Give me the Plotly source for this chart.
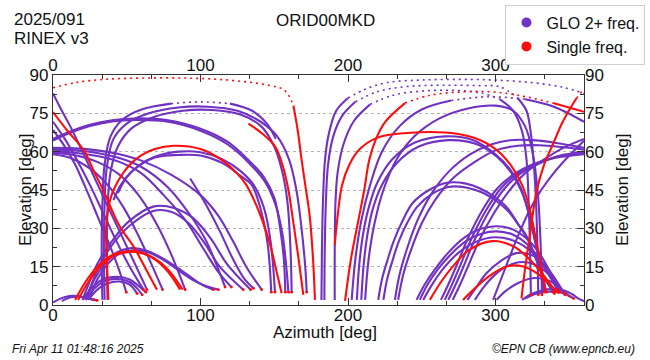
import plotly.graph_objects as go

# ---------------- text ----------------
station = "ORID00MKD"
date_label = "2025/091"
rinex_label = "RINEX v3"
stamp_left = "Fri Apr 11 01:48:16 2025"
stamp_right = "©EPN CB (www.epncb.eu)"
legend_names = ["GLO 2+ freq.", "Single freq."]
x_ticks = [0, 100, 200, 300]
y_ticks = [0, 15, 30, 45, 60, 75, 90]

# ---------------- single-frequency tracks (azimuth, elevation) ----------------
r01 = [(0, 85), (15, 87), (35, 88.3), (60, 88.8), (90, 88.8), (119, 88), (146, 86), (157, 84),
       (163, 78), (166, 68), (168.5, 57), (171, 47), (174, 35), (176.3, 18), (177.6, 2)]
r02 = [(0, 75.5), (10, 68), (20.8, 60.6), (28, 52), (34, 45), (45, 31), (55, 22.5), (63, 14), (70.5, 6)]
r03 = [(37.5, 2), (36.5, 18), (36, 30), (37.5, 38), (41, 45), (48, 52), (56, 57), (69, 61), (82, 62.3),
       (100, 61), (115, 56.5), (124, 52), (131, 47), (140, 36), (147, 24), (152, 12), (155, 4.6)]
r04 = [(15, 2), (22, 9), (30, 15), (40, 19.5), (50, 21), (60, 20.5), (70, 17.5), (78, 13), (86.2, 6)]
r05 = [(17, 2), (24, 9), (32, 15), (42, 19.5), (52, 20.8), (62, 20), (72, 17), (80, 12.5), (88, 6)]
r06 = [(132.5, 71), (142, 67), (150.6, 62), (156, 54), (159.6, 45), (163, 32), (166.5, 18), (169.7, 4)]
r07 = [(198, 1.6), (202, 18), (207, 33), (211, 45), (214.5, 57), (219, 65), (225, 71.5), (238.6, 79),
       (255, 82), (275, 83.3), (295, 83.5), (316, 82), (339, 79), (360, 75.6)]
r08 = [(191, 23.5), (193, 35), (196, 47), (201, 55), (208, 61), (220, 65.5), (240, 67.3), (266, 67.5),
       (285, 65.5), (300, 61), (310, 55), (318, 47), (323, 38), (327, 27), (331, 15), (334, 5)]
r09 = [(317.6, 2.6), (320, 14), (323.5, 28), (327.7, 44), (333, 55), (339, 63), (345, 71), (350, 76.3),
       (355, 81), (360, 84.5)]
r10 = [(255.5, 2), (263, 9), (271, 15), (282, 21.5), (298, 25), (312, 23), (322, 18.5), (330, 13.5),
       (336, 9), (341, 5)]
r11 = [(278, 2), (286, 6.5), (295, 11), (307, 15), (318, 15.2), (328, 12.5), (336, 8.5), (343, 4.5)]

# ---------------- GLONASS 2+ frequency tracks (azimuth, elevation) ----------------
p01 = [(0, 82.8), (6, 76), (11.8, 69.8), (20, 60), (28, 50), (36, 40), (45, 29), (54, 18), (63.7, 6)]
p02 = [(0, 71.7), (8, 65), (16, 57), (25, 47), (34, 36), (43, 25), (52, 15), (61.4, 6)]
p03 = [(0, 68.5), (8, 62), (15, 55), (22, 46), (30, 35), (38, 24), (44, 15), (49.7, 5)]
p04 = [(0, 65), (10, 67.5), (25, 70.5), (40, 72.3), (55, 73), (77, 72.4), (100, 69), (118, 64),
       (132, 57), (143, 50), (150, 42), (154, 30), (156.5, 18), (157.5, 5)]
p05 = [(0, 64.3), (10, 67), (25, 70), (40, 71.8), (55, 72.4), (77, 71.8), (100, 68.2), (118, 63),
       (133, 55.5), (144, 48), (151, 39), (155.5, 28), (158, 16), (159.6, 5)]
b01 = [(33.5, 2), (33, 20), (33.5, 40), (35, 55), (39, 66), (47, 72.5), (60, 76.5), (80, 78.8),
       (100, 79.5), (120, 78.8), (135, 76), (145, 71), (151, 65)]
b02 = [(35, 2), (34.5, 20), (35, 40), (36.5, 54), (41, 65), (50, 71), (65, 75), (85, 77.3), (105, 77.6),
       (125, 76), (140, 72), (152, 66), (160, 57), (165, 45), (168.5, 30), (171, 15), (172, 5)]
b03 = [(37, 2), (36.5, 20), (37, 38), (39, 52), (44, 62), (53, 69), (68, 73.5), (88, 76), (108, 76.3),
       (127, 74.5), (141, 70), (150, 62), (155.5, 52), (159, 40), (161, 22), (161.8, 5)]
p06 = [(41, 41), (46, 47), (55, 53), (69, 57.7), (85, 58.7), (100, 58.5), (115, 55.5), (126, 51),
       (134.7, 47), (141, 37), (145.5, 24), (148, 5)]
p07 = [(44, 43.8), (50, 50), (58, 54.5), (69, 58), (85, 60), (100, 59.8), (115, 57), (127, 52.5),
       (136, 47), (143, 38), (147.5, 25), (150.5, 5)]
p08 = [(93, 49.5), (103, 40), (113, 29), (122, 18), (130, 10), (136, 6.5)]
p09 = [(0, 61.5), (15, 61.3), (30, 60.5), (45, 59), (60, 56.5), (80, 51), (100, 43), (112, 35),
       (122, 25), (131, 15), (141.5, 6)]
p10 = [(0, 60.8), (15, 60.5), (30, 59.5), (45, 57.5), (60, 54), (78, 46), (92, 36), (103, 26),
       (110, 17), (116.7, 7)]
p11 = [(0, 60), (15, 59.6), (30, 58.3), (45, 56), (60, 51.5), (75, 43), (90, 33), (102, 22),
       (112, 13), (121, 7)]
p12 = [(0, 59.5), (15, 58.6), (30, 56), (45, 51), (58, 43), (70, 32), (80, 20), (89.6, 6)]
p13 = [(0, 59), (12, 57.5), (25, 53.5), (37, 47), (48, 38), (58, 27), (66, 17), (74.3, 6)]
p14 = [(22, 2), (26, 8), (32, 16), (42, 25), (54, 32), (68, 36.8), (80, 36.5), (92, 32), (103, 24),
       (113, 15), (129, 6)]
p15 = [(20, 2), (24, 8), (30, 16), (40, 25), (52, 33), (68, 38.5), (82, 38), (95, 34), (107, 26),
       (118, 16), (134, 6)]
p16 = [(23, 3), (28, 10), (35, 16), (43, 20.5), (52, 22.2), (62, 21.5), (72, 19), (82, 15.5),
       (92, 11.5), (101, 8), (108.8, 6)]
p17 = [(25, 3), (30, 10), (37, 16), (45, 20), (54, 21.4), (64, 20.7), (74, 18), (84, 14), (94, 10),
       (103, 7.5), (112.2, 6)]
p19 = [(20, 2), (26, 6.5), (33, 9.8), (43, 11), (52, 10), (58, 7.5), (63, 5)]
p20 = [(22, 2), (28, 6.5), (35, 9.3), (44, 10.2), (52, 9), (57, 6.5), (60.5, 4)]
p21 = [(24, 2), (30, 6), (37, 8.5), (45, 9.2), (52, 8), (57, 4.5)]
p22 = [(0, 1), (5, 2.5), (11, 3.5), (17, 3.5), (23, 2.7), (28, 2)]
p23 = [(6, 1.5), (12, 3), (18, 3.2), (24, 2.5), (30, 1.8)]
c01 = [(182, 2), (182.3, 20), (183, 40), (184.4, 56.7), (187, 67), (192, 76), (200, 81), (211.5, 84.4),
       (226, 87), (248.7, 88), (275, 88.3), (300, 88), (325, 87), (345, 85.3), (360, 82.8)]
c02 = [(184, 2), (184.2, 20), (185, 40), (186.5, 55), (190, 66), (196, 74), (205, 79.5), (220, 83.5),
       (240, 85.5), (265, 86), (290, 85.8), (303, 85.4), (315, 81), (321, 76), (324, 67), (326, 55),
       (327.5, 40), (328.5, 20), (329, 4)]
c03 = [(191, 2), (191, 20), (191.5, 40), (193, 52), (197, 63), (204, 72), (215, 78.5), (230, 82),
       (250, 83.7), (270, 84), (290, 83), (303, 80.5), (312, 76), (318, 68), (321, 57), (322.5, 40),
       (323.5, 20), (324, 4)]
c05 = [(202.5, 2), (205, 18), (209, 33), (215, 47), (223, 60), (235, 70), (250, 76.5), (270, 80),
       (295, 81.5), (320, 80.5), (340, 77.5), (360, 71.7)]
c06 = [(211.6, 2), (214, 18), (218, 32), (224, 45), (233, 57), (245, 66), (262, 73), (282, 77),
       (300, 78), (312, 76), (320, 70), (325, 60), (328.5, 45), (330.5, 25), (331.5, 4)]
p30 = [(206, 2), (207.5, 15), (210, 27), (214, 38), (220, 48), (230, 57), (245, 63.5), (266, 66),
       (285, 64.5), (300, 59), (310, 53), (317, 46), (322, 37), (326, 27), (330, 16), (333, 5)]
p31 = [(209, 2), (210.5, 15), (213, 27), (217, 38), (223, 47), (233, 55.5), (248, 62), (268, 64.5),
       (287, 63), (301, 58), (311, 51.5), (318, 44), (323, 35), (327, 25), (331, 14), (334.5, 5)]
p32 = [(220.5, 2), (223, 10), (227, 18), (231, 25), (237, 33), (244, 40), (255, 45), (267, 47.8),
       (280, 47.5), (290, 45.5), (300, 42), (308, 38), (315, 32), (321, 27), (326, 20), (331, 13),
       (339, 5)]
p33 = [(224, 2), (226.5, 10), (230.5, 18), (234.5, 25), (240, 32), (247, 38.5), (257, 43.5),
       (268, 46.2), (280, 46), (291, 44), (301, 40.5), (309, 36.5), (316, 31), (322, 25.5), (327, 19),
       (332, 12), (340, 4.5)]
p34 = [(231.8, 2), (235, 12), (240, 22), (247, 33), (256, 43), (268, 52), (283, 59), (298, 63),
       (310, 64.5), (325, 64.5), (340, 63.5), (360, 61.5)]
p35 = [(234, 2), (237.5, 12), (243, 22), (250, 32), (259, 41), (271, 49.5), (286, 56), (300, 60.5),
       (315, 62.3), (330, 62.5), (345, 61.8), (360, 60.8)]
f01 = [(263, 2), (268, 8), (274, 16), (282, 27), (291, 37), (301, 45.5), (312, 51), (325, 55),
       (340, 57.5), (360, 59)]
f02 = [(265.6, 2), (270.5, 8), (276.5, 16), (284.5, 27), (293.5, 37), (303.5, 45.5), (314, 51),
       (327, 55), (342, 58), (360, 59.5)]
f03 = [(268, 2), (273, 8), (279, 16), (287, 27), (296, 37), (306, 45.5), (317, 51.5), (330, 55.5),
       (344, 58.5), (360, 60)]
f04 = [(271, 2), (276, 8), (282, 16), (290, 26.5), (299, 36), (309, 44.5), (320, 51.5), (333, 57),
       (346, 61.5), (360, 65)]
f05 = [(298.4, 2), (303, 9), (309, 18), (316, 28), (323, 37), (331, 45), (340, 52), (350, 58.5),
       (360, 64.3)]
a01 = [(246.5, 2), (252, 8), (259, 14), (268, 20.5), (278, 26), (290, 29.8), (300.7, 30.8), (312, 29.5),
       (322, 25.5), (330, 20), (336, 14), (341, 8), (344, 5)]
a02 = [(248.7, 2), (254, 8), (261, 14), (270, 20), (280, 25), (291, 28), (301, 28.8), (312, 27.5),
       (322, 23.5), (330, 18), (336, 12.5), (342, 6)]
a03 = [(251, 2), (257, 8), (265, 14.5), (275, 20.5), (287, 24.8), (300, 26.5), (313, 25), (324, 21),
       (332, 15.5), (338, 10), (343, 5)]
a04 = [(281, 2), (287, 7), (294, 12.5), (303, 17), (314, 20.3), (325, 19.5), (333, 16), (339, 11.5),
       (344, 7), (347, 4)]
a05 = [(286, 2), (292, 7), (299, 11.5), (308, 15.2), (318, 16.8), (328, 15.5), (336, 12), (342, 8),
       (347, 4.5)]
a06 = [(300.7, 2), (307, 5.5), (315, 8.5), (325, 10.5), (334, 10), (341, 8), (347, 5), (350, 3.5)]
a07 = [(318, 2), (324, 4.2), (332, 5.8), (340, 6.2), (347, 5.6), (352, 4.2), (356, 2.6), (360, 1.5)]
a08 = [(320, 2.5), (328, 4.5), (336, 5.2), (344, 5), (350, 3.5), (353, 2.5)]

red_tracks = [r01, r02, r03, r04, r05, r06, r07, r08, r09, r10, r11]
purple_tracks = [p01, p02, p03, p04, p05, b01, b02, b03, p06, p07, p08, p09, p10, p11, p12, p13,
                 p14, p15, p16, p17, p19, p20, p21, p22, p23, c01, c02, c03, c05, c06, p30, p31,
                 p32, p33, p34, p35, f01, f02, f03, f04, f05, a01, a02, a03, a04, a05, a06, a07, a08]

PURPLE = "#7132c4"
RED = "#ff0d0d"
FONT = "Liberation Sans, Arial, Helvetica, sans-serif"
HIGH = 78  # near-zenith parts are sparse points -> drawn dotted


def runs(track):
    segs, cur, flag = [], [track[0]], None
    for a, b in zip(track, track[1:]):
        d = a[1] >= HIGH and b[1] >= HIGH
        if flag is None:
            flag = d
        if d != flag:
            segs.append((flag, cur))
            cur, flag = [a], d
        cur.append(b)
    segs.append((flag, cur))
    return segs


fig = go.Figure()


def add_track(track, color):
    for dotted, seg in runs(track):
        fig.add_trace(go.Scatter(
            x=[p[0] for p in seg], y=[p[1] for p in seg], mode="lines",
            line=dict(color=color, width=1.6 if dotted else 2.1,
                      dash="2px,4px" if dotted else "solid", shape="spline", smoothing=1.0),
            showlegend=False, hoverinfo="skip"))


for t in purple_tracks:
    add_track(t, PURPLE)

# last low-elevation epochs of GLONASS tracks are single-frequency
ends = [t[-1] for t in purple_tracks if t[-1][1] < 10 and t[-1][0] < 355]
fig.add_trace(go.Scatter(x=[e[0] for e in ends], y=[e[1] for e in ends], mode="markers",
                         marker=dict(color=RED, size=2.8), showlegend=False, hoverinfo="skip"))

for t in red_tracks:
    add_track(t, RED)

# legend entries
fig.add_trace(go.Scatter(x=[None], y=[None], mode="markers", name=legend_names[0],
                         marker=dict(color=PURPLE, size=10)))
fig.add_trace(go.Scatter(x=[None], y=[None], mode="markers", name=legend_names[1],
                         marker=dict(color=RED, size=10)))
# anchor traces for the mirrored (top / right) labelled axes
fig.add_trace(go.Scatter(x=[None], y=[None], xaxis="x2", yaxis="y2", showlegend=False,
                         hoverinfo="skip"))

tickfont = dict(family=FONT, size=17, color="#111")
fig.update_layout(
    width=650, height=360,
    margin=dict(l=53, r=66, t=75, b=55, autoexpand=False),
    paper_bgcolor="white", plot_bgcolor="white",
    font=dict(family=FONT, size=17, color="#111"),
    xaxis=dict(range=[0, 360], tickvals=x_ticks, ticks="inside", ticklen=7, tickcolor="#333",
               minor=dict(dtick=100 / 3, tick0=0, ticks="inside", ticklen=4, tickcolor="#333"),
               showgrid=False, zeroline=False, showline=True, linecolor="#333", linewidth=1.2,
               mirror="ticks", tickfont=tickfont, ticklabelstandoff=-6),
    xaxis2=dict(range=[0, 360], tickvals=x_ticks, overlaying="x", side="top", anchor="y",
                ticks="", showgrid=False, zeroline=False, showline=False, tickfont=tickfont),
    yaxis=dict(range=[0, 90], tickvals=y_ticks, ticks="inside", ticklen=7, tickcolor="#333",
               minor=dict(dtick=7.5, tick0=0, ticks="inside", ticklen=4, tickcolor="#333",
                          showgrid=False),
               showgrid=True, gridcolor="#b4b4b4", griddash="dot", gridwidth=1,
               zeroline=False, showline=True, linecolor="#333", linewidth=1.2,
               mirror="ticks", tickfont=tickfont),
    yaxis2=dict(range=[0, 90], tickvals=y_ticks, overlaying="y", side="right", anchor="x",
                ticks="", showgrid=False, zeroline=False, showline=False, tickfont=tickfont),
    legend=dict(xref="container", yref="container", x=0.993, y=0.987, xanchor="right",
                yanchor="top", bgcolor="white", bordercolor="#cfcfcf", borderwidth=1,
                font=dict(family=FONT, size=16, color="#111"), itemwidth=30,
                tracegroupgap=0),
)

W, H, L, T = 531, 230, 53, 75


def px(x):
    return (x - L) / W


def py(y):
    return (T + H - y) / H


ann = [
    dict(text=date_label, x=px(12), y=py(19), xanchor="left", yanchor="middle", font=dict(size=17)),
    dict(text=rinex_label, x=px(12), y=py(38), xanchor="left", yanchor="middle", font=dict(size=17)),
    dict(text=station, x=px(325), y=py(20), xanchor="center", yanchor="middle", font=dict(size=17)),
    dict(text="Azimuth [deg]", x=px(325), y=py(332), xanchor="center", yanchor="middle",
         font=dict(size=17)),
    dict(text="Elevation [deg]", x=px(25), y=0.5, xanchor="center", yanchor="middle",
         textangle=-90, font=dict(size=17)),
    dict(text="Elevation [deg]", x=px(622), y=0.5, xanchor="center", yanchor="middle",
         textangle=-90, font=dict(size=17)),
    dict(text="<i>" + stamp_left + "</i>", x=px(10), y=py(349), xanchor="left", yanchor="middle",
         font=dict(size=12)),
    dict(text="<i>" + stamp_right + "</i>", x=px(637), y=py(349), xanchor="right",
         yanchor="middle", font=dict(size=12)),
]
for a in ann:
    a.update(xref="paper", yref="paper", showarrow=False)
    a["font"] = dict(family=FONT, color="#111", size=a["font"]["size"])
fig.update_layout(annotations=ann)

fig.write_html("out.html", config={"displayModeBar": False},
               post_script="document.body.style.margin='0px';")
